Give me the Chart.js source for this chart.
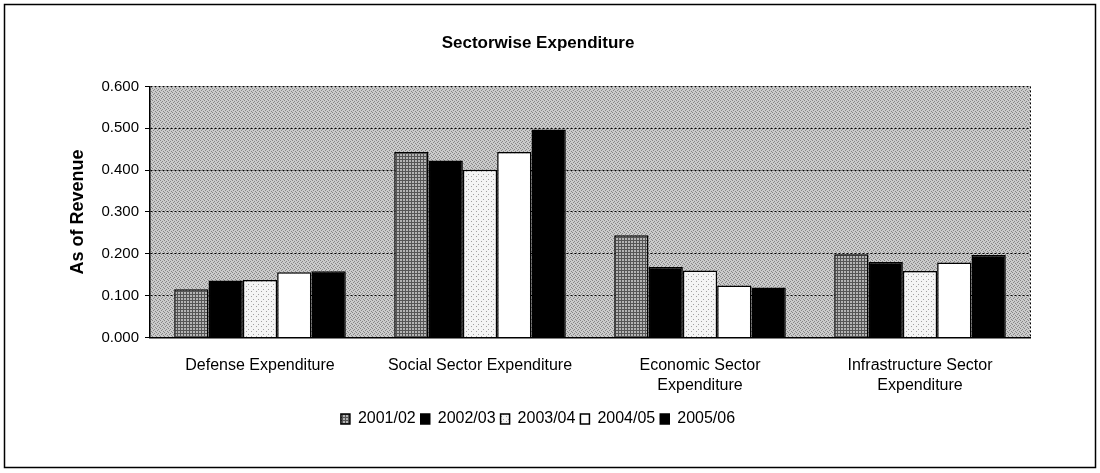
<!DOCTYPE html>
<html>
<head>
<meta charset="utf-8">
<title>Sectorwise Expenditure</title>
<script src="https://cdn.jsdelivr.net/npm/chart.js@4.4.0/dist/chart.umd.min.js"></script>
<style>
  html, body { margin: 0; padding: 0; background: #fff; }
  #wrap { width: 1100px; height: 473px; }
</style>
</head>
<body>
<div id="wrap"><canvas id="sectorChart" width="1100" height="473"></canvas></div>
<script>
const sectors = [
  "Defense Expenditure",
  "Social Sector Expenditure",
  ["Economic Sector", "Expenditure"],
  ["Infrastructure Sector", "Expenditure"]
];
const years = ["2001/02", "2002/03", "2003/04", "2004/05", "2005/06"];

const fy2001 = [0.115, 0.443, 0.244, 0.199];
const fy2002 = [0.136, 0.423, 0.168, 0.180];
const fy2003 = [0.137, 0.401, 0.160, 0.159];
const fy2004 = [0.156, 0.443, 0.124, 0.179];
const fy2005 = [0.158, 0.497, 0.119, 0.197];

const yTickValues = [0.000, 0.100, 0.200, 0.300, 0.400, 0.500, 0.600];

const fontFamily = "'Liberation Sans', Arial, Helvetica, sans-serif";

let sectorChart;

document.addEventListener("DOMContentLoaded", createSectorChart);

function makePattern(size, paint) {
  const c = document.createElement("canvas");
  c.width = size;
  c.height = size;
  const g = c.getContext("2d");
  paint(g, size);
  return g.createPattern(c, "repeat");
}

function dots(g, color, pts) {
  g.fillStyle = color;
  pts.forEach(([x, y]) => g.fillRect(x, y, 1, 1));
}

// halftone grey behind the bars
const plotFill = makePattern(4, (g, s) => {
  g.fillStyle = "#cbcbcb";
  g.fillRect(0, 0, s, s);
  dots(g, "#868686", [[0, 0], [2, 1], [1, 2], [3, 3]]);
});

// fine hatch for 2001/02
const hatchFill = makePattern(3, (g, s) => {
  g.fillStyle = "#b4b4b4";
  g.fillRect(0, 0, s, s);
  g.fillStyle = "#555";
  g.fillRect(0, 0, s, 1);
  g.fillRect(0, 0, 1, s);
});

// speckled white for 2003/04
const speckFill = makePattern(5, (g, s) => {
  g.fillStyle = "#f4f4f4";
  g.fillRect(0, 0, s, s);
  dots(g, "#a0a0a0", [[1, 1], [3, 4]]);
});

const framePlugin = {
  id: "frame",
  beforeDraw(chart) {
    const { ctx, chartArea: a, width, height } = chart;
    ctx.save();
    ctx.fillStyle = "#fff";
    ctx.fillRect(0, 0, width, height);
    ctx.fillStyle = plotFill;
    ctx.fillRect(a.left, a.top, a.right - a.left, a.bottom - a.top);
    ctx.restore();
  },
  afterDraw(chart) {
    const { ctx, chartArea: a } = chart;
    ctx.save();
    ctx.strokeStyle = "#000";
    ctx.lineWidth = 1;
    ctx.setLineDash([2, 2]);
    ctx.beginPath();
    ctx.moveTo(a.right + 0.5, a.top);
    ctx.lineTo(a.right + 0.5, a.bottom);
    ctx.stroke();
    ctx.setLineDash([]);
    ctx.lineWidth = 1.5;
    ctx.strokeRect(4.5, 4.5, 1091, 463);
    ctx.restore();
  }
};

function createSectorChart() {
  const ctx = document.getElementById("sectorChart");
  if (!ctx) return;

  if (sectorChart) sectorChart.destroy();

  const fills = [hatchFill, "#000", speckFill, "#fff", "#000"];
  const series = [fy2001, fy2002, fy2003, fy2004, fy2005];

  sectorChart = new Chart(ctx, {
    type: "bar",
    data: {
      labels: sectors,
      datasets: years.map((year, i) => ({
        label: year,
        data: series[i],
        backgroundColor: fills[i],
        borderColor: "#000",
        borderWidth: 1.5,
        categoryPercentage: 0.78,
        barPercentage: 1.0
      }))
    },
    plugins: [framePlugin],
    options: {
      responsive: false,
      animation: false,
      layout: { padding: { top: 33, left: 46, right: 70, bottom: 36 } },
      plugins: {
        tooltip: { enabled: false },
        title: {
          display: true,
          text: "Sectorwise Expenditure",
          color: "#000",
          font: { family: fontFamily, size: 17, weight: "bold" },
          padding: { top: 0, bottom: 33 }
        },
        legend: {
          position: "bottom",
          labels: {
            color: "#000",
            font: { family: fontFamily, size: 16 },
            boxWidth: 9,
            boxHeight: 10,
            padding: 5
          }
        }
      },
      scales: {
        x: {
          grid: { display: false, drawTicks: false },
          border: { display: true, color: "#000", width: 1.5 },
          ticks: {
            color: "#000",
            font: { family: fontFamily, size: 16, lineHeight: 1.25 },
            padding: 18,
            maxRotation: 0,
            autoSkip: false
          },
          afterFit(scale) { scale.height -= 7.4; }
        },
        y: {
          min: 0,
          max: 0.6,
          afterFit(scale) { scale.width = 104; },
          afterBuildTicks(scale) { scale.ticks = yTickValues.map(v => ({ value: v })); },
          grid: { color: "#000", lineWidth: 1, tickLength: 5, tickColor: "#000", tickBorderDash: [] },
          border: { display: true, color: "#000", width: 1.5, dash: [2, 2] },
          ticks: {
            color: "#000",
            font: { family: fontFamily, size: 15 },
            padding: 6,
            callback: v => Number(v).toFixed(3)
          },
          title: {
            display: true,
            text: "As of Revenue",
            color: "#000",
            font: { family: fontFamily, size: 18, weight: "bold" },
            padding: { top: 21, bottom: 0 }
          }
        }
      }
    }
  });
}
</script>
</body>
</html>
